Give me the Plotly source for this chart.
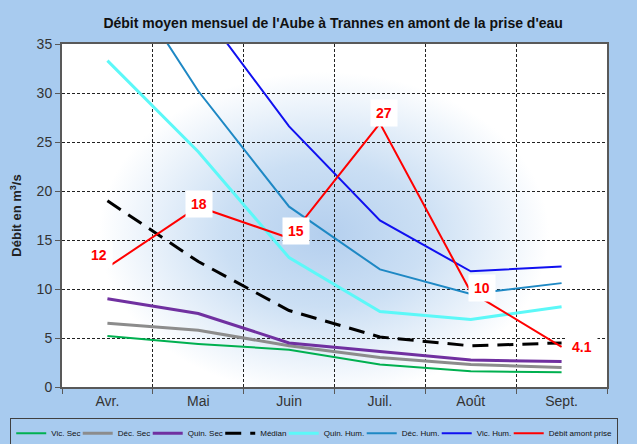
import base64
import plotly.graph_objects as go

months = ["Avr.", "Mai", "Juin", "Juil.", "Août", "Sept."]

vic_sec = [5.2, 4.4, 3.8, 2.3, 1.6, 1.5]
dec_sec = [6.5, 5.8, 4.2, 3.0, 2.3, 2.0]
quin_sec = [9.0, 7.5, 4.5, 3.6, 2.75, 2.6]
median = [19.0, 12.8, 7.8, 5.1, 4.2, 4.5]
quin_hum = [33.3, 24.0, 13.2, 7.7, 6.9, 8.2]
dec_hum = [44.5, 30.2, 18.4, 12.0, 9.5, 10.6]
vic_hum = [55.0, 39.0, 26.6, 17.0, 11.8, 12.3]
debit = [12.2, 18.4, 15.2, 26.9, 9.7, 4.1]
debit_labels = ["12", "18", "15", "27", "10", "4.1"]

series = [
    ("Vic. Sec", vic_sec, "#00B050", 2, "solid", 21.5),
    ("Déc. Sec", dec_sec, "#8C8C8C", 3, "solid", 25),
    ("Quin. Sec", quin_sec, "#7030A0", 3, "solid", 27.5),
    ("Médian", median, "#000000", 3, "16px,9px", 18.5),
    ("Quin. Hum.", quin_hum, "#5CF8F8", 3, "solid", 33),
    ("Déc. Hum.", dec_hum, "#1E88C4", 2, "solid", 30),
    ("Vic. Hum.", vic_hum, "#1010F0", 2, "solid", 27),
    ("Débit amont prise", debit, "#FF0000", 2, "solid", 63),
]

FONT = "Liberation Sans, Arial, sans-serif"

fig = go.Figure()
for name, vals, color, width, dash, lw in series:
    fig.add_trace(go.Scatter(
        x=months, y=vals, name=name, mode="lines",
        line=dict(color=color, width=width, dash=dash),
        legendwidth=lw,
    ))

# label offsets (px) for the data labels of the measured flow
shifts = [(-8, 12), (1, 3), (7, 7), (4, 10), (11, 4), (20, 0)]
for m, v, t, (dx, dy) in zip(months, debit, debit_labels, shifts):
    fig.add_annotation(
        x=m, y=v, xref="x", yref="y", text="<b>%s</b>" % t, showarrow=False,
        xshift=dx, yshift=dy, font=dict(family=FONT, size=14, color="#FF0000"),
        bgcolor="white", borderpad=5,
    )

# soft blue glow behind the plot (decoration)
svg = (
    '<svg xmlns="http://www.w3.org/2000/svg" width="545" height="343" '
    'viewBox="0 0 545 343" preserveAspectRatio="none">'
    '<defs><radialGradient id="g" cx="262" cy="190" r="225" '
    'gradientUnits="userSpaceOnUse" gradientTransform="translate(262 190) scale(1 0.72) translate(-262 -190)">'
    '<stop offset="0" stop-color="rgb(180,207,238)"/>'
    '<stop offset="0.45" stop-color="rgb(203,223,244)"/>'
    '<stop offset="1" stop-color="rgb(255,255,255)"/>'
    '</radialGradient></defs>'
    '<rect x="0" y="0" width="545" height="343" fill="white"/>'
    '<rect x="0" y="0" width="545" height="343" fill="url(#g)"/>'
    '</svg>'
)
src = "data:image/svg+xml;base64," + base64.b64encode(svg.encode()).decode()
fig.add_layout_image(dict(
    source=src, xref="x domain", yref="y domain", x=0, y=1, sizex=1, sizey=1,
    xanchor="left", yanchor="top", sizing="stretch", layer="below",
))

axis_common = dict(
    showline=True, linecolor="#595959", linewidth=2, mirror=True,
    ticks="outside", ticklen=5, tickcolor="#595959", tickwidth=1,
    showgrid=True, gridcolor="#222222", gridwidth=1, griddash="3px,2px",
    tickfont=dict(family=FONT, size=14, color="#333333"),
    zeroline=False, automargin=False,
)

fig.update_layout(
    width=637, height=444,
    margin=dict(l=62, r=30, t=44, b=57, autoexpand=False),
    paper_bgcolor="#A8CBEF",
    plot_bgcolor="white",
    title=dict(
        text="<b>Débit moyen mensuel de l'Aube à Trannes en amont de la prise d'eau</b>",
        x=0.523, xanchor="center", y=0.949, yanchor="middle",
        font=dict(family=FONT, size=14, color="#111111"),
    ),
    xaxis=dict(type="category", tickson="boundaries", categoryorder="array",
               categoryarray=months, range=[-0.5, 5.5], **axis_common),
    yaxis=dict(range=[0, 35], dtick=5,
               title=dict(text="<b>Débit en m<sup>3</sup>/s</b>",
                          font=dict(family=FONT, size=13, color="#222222"), standoff=12),
               **axis_common),
    legend=dict(
        orientation="h", x=-0.095, xanchor="left", y=-0.09, yanchor="top",
        bgcolor="#A8CBEF", bordercolor="#404040", borderwidth=1,
        font=dict(family=FONT, size=8, color="#111111"),
        itemwidth=30, tracegroupgap=0,
    ),
    showlegend=True,
)

fig.write_html(
    "out.html",
    config={"displayModeBar": False},
    post_script="document.body.style.margin='0';document.body.style.overflow='hidden';",
)
